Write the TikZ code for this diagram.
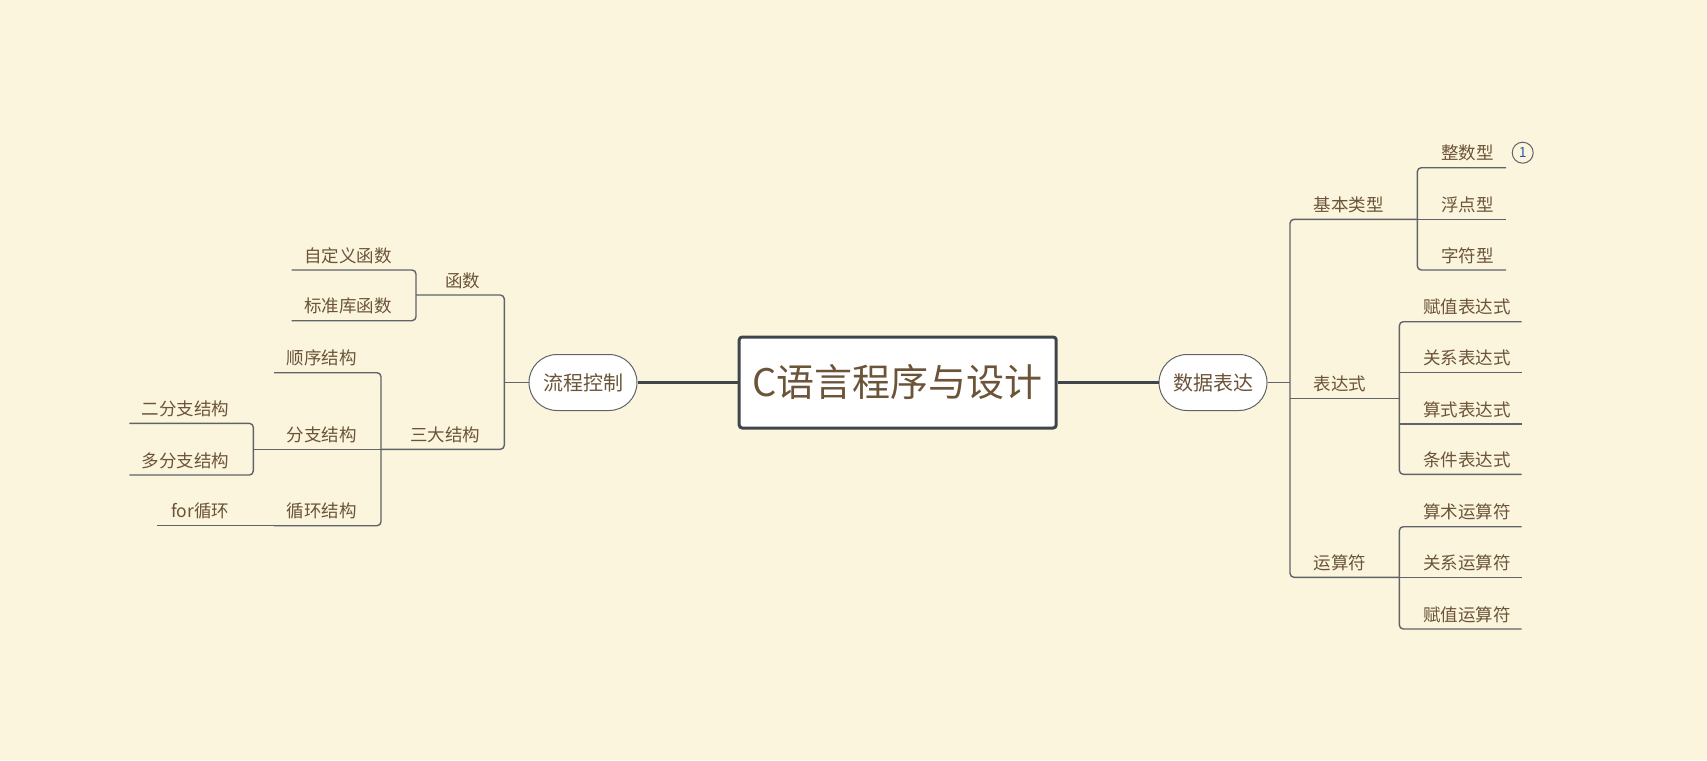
\documentclass[tikz,border=0pt]{standalone}
\usepackage{fontspec}
\setmainfont{Noto Sans CJK SC}
\usetikzlibrary{calc,positioning}
\definecolor{PaperBg}{RGB}{252,245,222}
\definecolor{InkBrown}{RGB}{107,84,56}
\definecolor{WireGray}{RGB}{96,100,104}
\definecolor{BoxGray}{RGB}{62,70,76}
\definecolor{MarkBlue}{RGB}{40,90,170}
% topic on the right: name, x near parent, x far end, y of underline, text
\newcommand{\rtopic}[5]{%
  \coordinate (#1-a) at (#2,#4); \coordinate (#1-b) at (#3,#4);
  \node[topic,anchor=west] (#1) at ($(#1-a)+(23.5,-14.5)$) {#5};}
% topic on the left
\newcommand{\ltopic}[5]{%
  \coordinate (#1-a) at (#2,#4); \coordinate (#1-b) at (#3,#4);
  \node[topic,anchor=east] (#1) at ($(#1-a)+(-24,-14.5)$) {#5};}

\begin{document}
\begin{tikzpicture}[x=1pt,y=-1pt,
  topic/.style={text=InkBrown,inner sep=0pt,font=\fontsize{17.5}{20}\selectfont},
  wire/.style={draw=WireGray,line width=1.4pt,rounded corners=4pt},
  trunk/.style={draw=BoxGray,line width=2.7pt},
  pill/.style={draw=WireGray,line width=1pt,fill=white,rounded corners=28pt,
    minimum width=108pt,minimum height=56pt,inner sep=0pt,text=InkBrown,
    font=\fontsize{20}{24}\selectfont}]
  \fill[PaperBg] (0,0) rectangle (1707,760);
  \useasboundingbox (0,0) rectangle (1707,760);

  % centre
  \node[draw=BoxGray,line width=3pt,fill=white,rounded corners=3pt,
    minimum width=317pt,minimum height=91pt,inner sep=0pt,text=InkBrown,
    font=\fontsize{38}{44}\selectfont] (root) at (897.7,382.5) {C语言程序与设计};
  \node[pill] (sjbd) at (1213,382.5) {数据表达};
  \node[pill] (lckz) at (583,382.5) {流程控制};
  \draw[trunk] (root.east) -- (sjbd.west);
  \draw[trunk] (root.west) -- (lckz.east);

  % right branch
  \coordinate (hubR) at (1290,382.5);
  \draw[wire] (sjbd.east) -- (hubR);
  \rtopic{jblx}{1290}{1417.3}{219.3}{基本类型}
  \rtopic{bds}{1290}{1399.3}{398.3}{表达式}
  \rtopic{ysf}{1290}{1399.3}{577.3}{运算符}
  \draw[wire] (jblx-b) -- (jblx-a) -- (ysf-a) -- (ysf-b);
  \draw[wire] (bds-a) -- (bds-b);

  \foreach \nm/\yy/\tx in {zsx/167.7/整数型,fdx/219.3/浮点型,zfx/270/字符型}
    {\rtopic{\nm}{1417.3}{1506}{\yy}{\tx}}
  \draw[wire] (zsx-b) -- (zsx-a) -- (zfx-a) -- (zfx-b);
  \draw[wire] (fdx-a) -- (fdx-b);
  \node[draw=WireGray,circle,line width=1pt,minimum size=21pt,inner sep=0pt,
    text=MarkBlue,font=\fontsize{14}{16}\selectfont] (mark) at (1522.7,152.7) {1};

  \foreach \nm/\yy/\tx in {fzbds/321.7/赋值表达式,gxbds/372.3/关系表达式,
      ssbds/424/算式表达式,tjbds/474.3/条件表达式}
    {\rtopic{\nm}{1399.3}{1521.7}{\yy}{\tx}}
  \draw[wire] (fzbds-b) -- (fzbds-a) -- (tjbds-a) -- (tjbds-b);
  \draw[wire] (gxbds-a) -- (gxbds-b);
  \draw[wire] (ssbds-a) -- (ssbds-b);

  \foreach \nm/\yy/\tx in {ssysf/526.7/算术运算符,gxysf/577.3/关系运算符,
      fzysf/629/赋值运算符}
    {\rtopic{\nm}{1399.3}{1521.7}{\yy}{\tx}}
  \draw[wire] (ssysf-b) -- (ssysf-a) -- (fzysf-a) -- (fzysf-b);
  \draw[wire] (gxysf-a) -- (gxysf-b);

  % left branch
  \coordinate (hubL) at (504.3,382.5);
  \draw[wire] (lckz.west) -- (hubL);
  \ltopic{hs}{504.3}{416}{295}{函数}
  \ltopic{sdjg}{504.3}{381}{449.3}{三大结构}
  \draw[wire] (hs-b) -- (hs-a) -- (sdjg-a) -- (sdjg-b);

  \ltopic{zdyhs}{416}{291.7}{270}{自定义函数}
  \ltopic{bzkhs}{416}{291.7}{320.7}{标准库函数}
  \draw[wire] (zdyhs-b) -- (zdyhs-a) -- (bzkhs-a) -- (bzkhs-b);

  \ltopic{sxjg}{381}{274}{372.7}{顺序结构}
  \ltopic{fzjg}{381}{253.3}{449.3}{分支结构}
  \ltopic{xhjg}{381}{274}{525.7}{循环结构}
  \draw[wire] (sxjg-b) -- (sxjg-a) -- (xhjg-a) -- (xhjg-b);
  \draw[wire] (fzjg-a) -- (fzjg-b);

  \ltopic{efzjg}{253.3}{129.3}{423.3}{二分支结构}
  \ltopic{dfzjg}{253.3}{129.3}{475}{多分支结构}
  \draw[wire] (efzjg-b) -- (efzjg-a) -- (dfzjg-a) -- (dfzjg-b);
  \ltopic{forxh}{253.3}{157.3}{525.7}{for循环}
  \draw[wire] (xhjg-b) -- (forxh-b);
\end{tikzpicture}
\end{document}
